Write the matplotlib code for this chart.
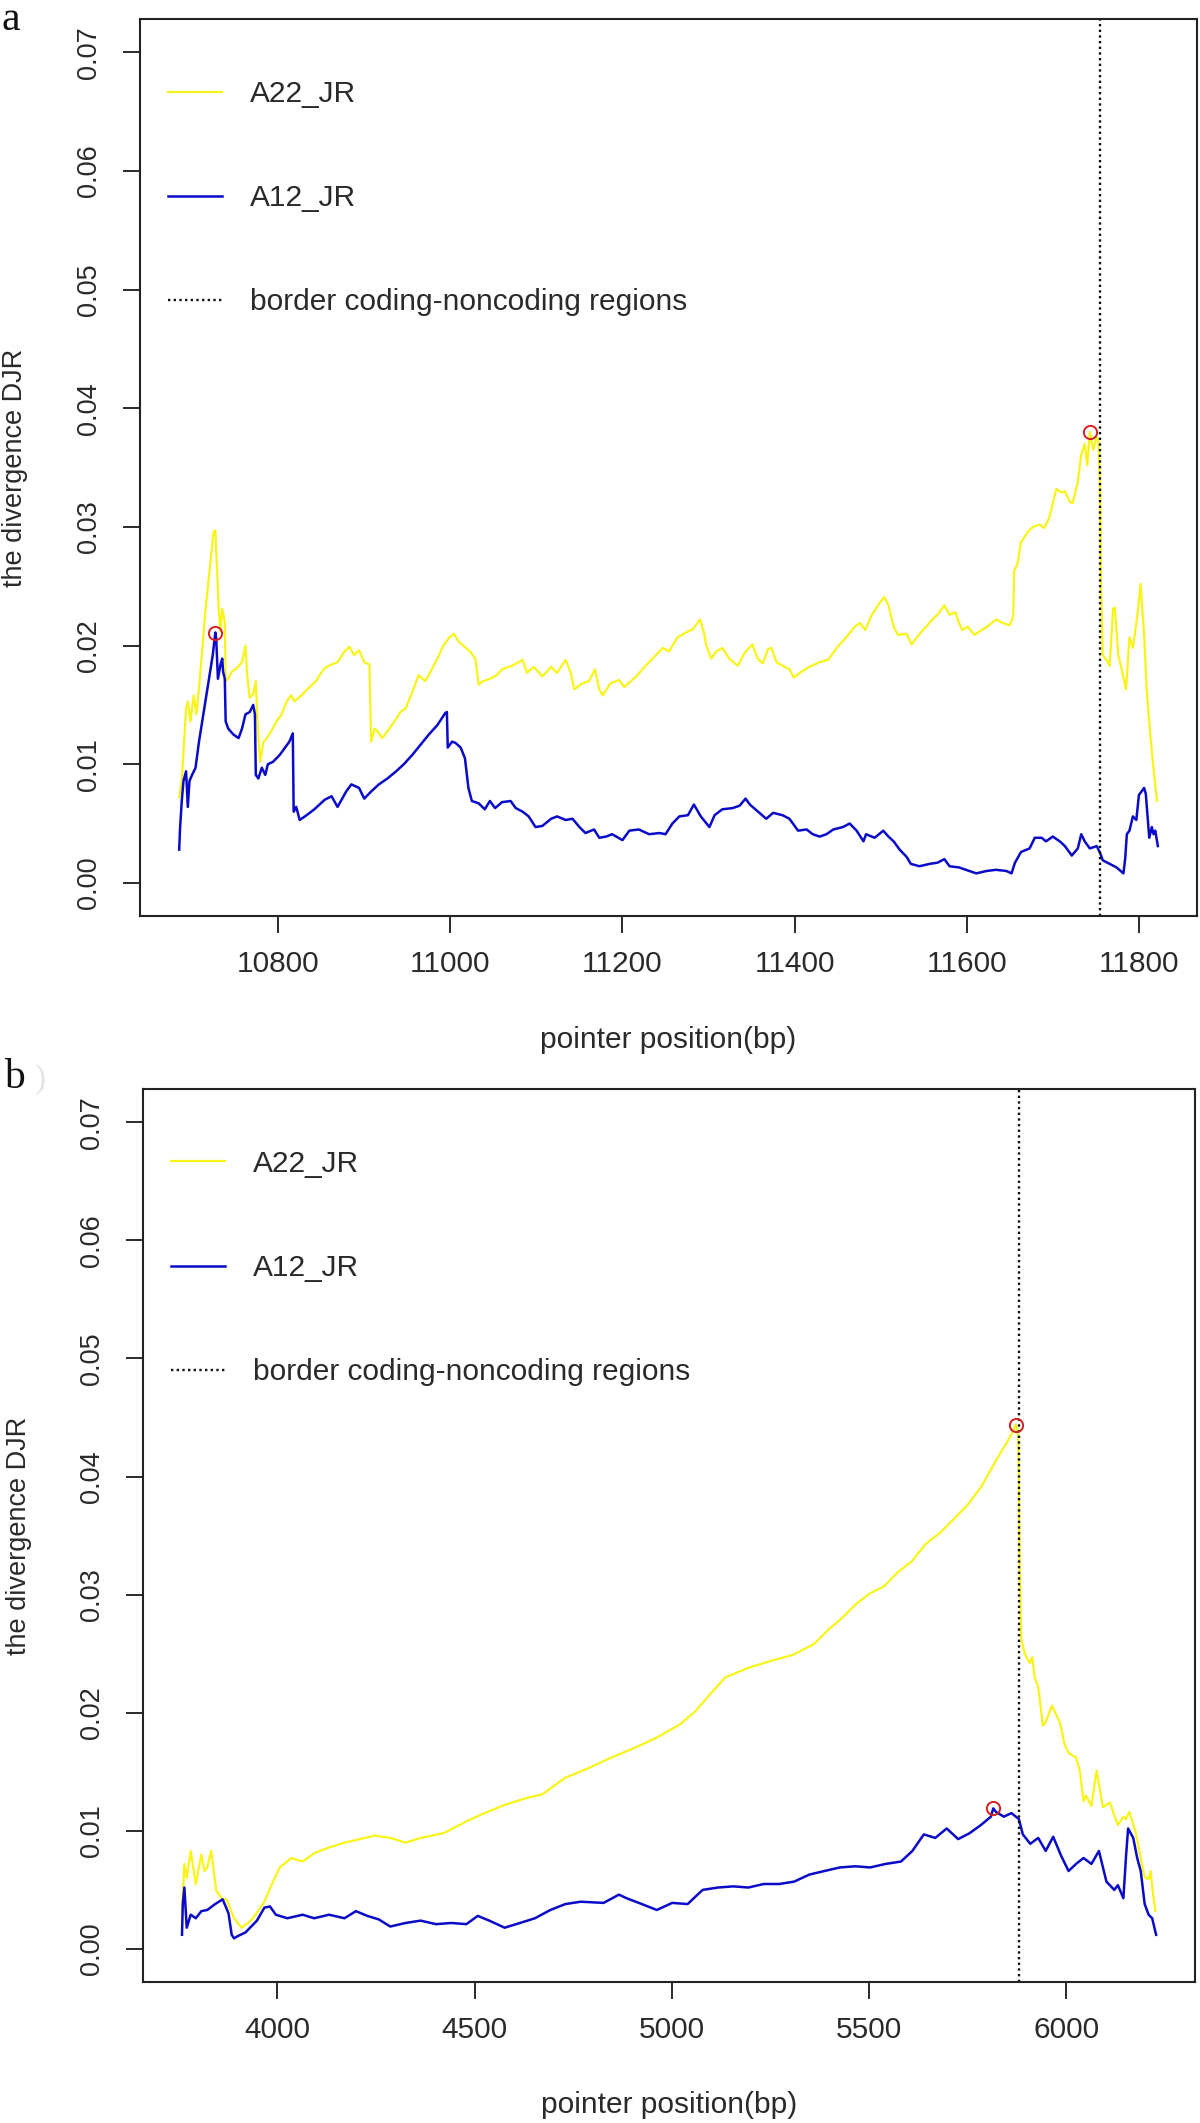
import matplotlib
matplotlib.use("Agg")
import matplotlib.pyplot as plt
import numpy as np

# ---- panel a : DJR along pointer position (bp) ----
a22_a_bp = [10685, 10688, 10693, 10695, 10698, 10702, 10705, 10708, 10712, 10715,
            10721, 10725, 10727, 10729, 10731, 10733, 10735, 10738, 10739, 10742,
            10746, 10752, 10758, 10762, 10764, 10767, 10771, 10774, 10776, 10779,
            10783, 10787, 10792, 10798, 10804, 10810, 10815, 10819, 10827, 10835,
            10844, 10848, 10854, 10862, 10869, 10877, 10883, 10888, 10894, 10900,
            10906, 10908, 10912, 10915, 10921, 10927, 10935, 10942, 10948, 10956,
            10963, 10971, 10977, 10985, 10992, 10998, 11004, 11010, 11015, 11023,
            11029, 11033, 11038, 11046, 11054, 11060, 11072, 11084, 11089, 11097,
            11107, 11117, 11124, 11134, 11140, 11144, 11153, 11161, 11168, 11173,
            11177, 11186, 11196, 11202, 11216, 11227, 11235, 11247, 11254, 11264,
            11274, 11282, 11290, 11295, 11297, 11303, 11309, 11316, 11324, 11334,
            11342, 11351, 11357, 11363, 11369, 11373, 11379, 11386, 11394, 11399,
            11406, 11417, 11429, 11439, 11449, 11460, 11470, 11476, 11482, 11489,
            11497, 11504, 11509, 11515, 11520, 11530, 11536, 11542, 11549, 11553,
            11560, 11566, 11574, 11580, 11587, 11591, 11595, 11601, 11609, 11617,
            11624, 11634, 11642, 11650, 11654, 11655, 11659, 11663, 11671, 11677,
            11685, 11690, 11696, 11700, 11704, 11710, 11714, 11720, 11723, 11729,
            11733, 11737, 11740, 11743, 11747, 11751, 11753, 11755, 11756, 11758,
            11764, 11766, 11770, 11772, 11776, 11780, 11785, 11789, 11793, 11797,
            11800, 11802, 11804, 11806, 11809, 11813, 11816, 11819, 11821]
a22_a_djr = [0.0072, 0.0086, 0.0147, 0.0153, 0.0136, 0.0158, 0.0142, 0.0164, 0.0198, 0.0226,
             0.0268, 0.0296, 0.0297, 0.0265, 0.0231, 0.0212, 0.0231, 0.0220, 0.0170, 0.0172,
             0.0178, 0.0181, 0.0186, 0.0200, 0.0175, 0.0156, 0.0159, 0.0170, 0.0136, 0.0102,
             0.0119, 0.0122, 0.0128, 0.0136, 0.0142, 0.0153, 0.0158, 0.0153, 0.0158, 0.0164,
             0.0170, 0.0175, 0.0181, 0.0184, 0.0186, 0.0195, 0.0199, 0.0192, 0.0196, 0.0186,
             0.0184, 0.0119, 0.0130, 0.0128, 0.0122, 0.0128, 0.0136, 0.0144, 0.0147, 0.0161,
             0.0175, 0.0170, 0.0178, 0.0189, 0.0200, 0.0206, 0.0210, 0.0203, 0.0200, 0.0195,
             0.0189, 0.0167, 0.0170, 0.0172, 0.0175, 0.0180, 0.0183, 0.0188, 0.0177, 0.0182,
             0.0174, 0.0182, 0.0177, 0.0188, 0.0177, 0.0163, 0.0168, 0.0170, 0.0180, 0.0163,
             0.0158, 0.0168, 0.0171, 0.0165, 0.0174, 0.0183, 0.0189, 0.0198, 0.0195, 0.0207,
             0.0211, 0.0214, 0.0222, 0.0210, 0.0201, 0.0189, 0.0195, 0.0198, 0.0189, 0.0183,
             0.0194, 0.0201, 0.0189, 0.0185, 0.0197, 0.0198, 0.0186, 0.0183, 0.0180, 0.0173,
             0.0177, 0.0182, 0.0186, 0.0188, 0.0198, 0.0207, 0.0216, 0.0219, 0.0213, 0.0225,
             0.0234, 0.0241, 0.0234, 0.0216, 0.0209, 0.0210, 0.0201, 0.0207, 0.0213, 0.0216,
             0.0222, 0.0226, 0.0234, 0.0226, 0.0228, 0.0219, 0.0213, 0.0216, 0.0209, 0.0213,
             0.0216, 0.0222, 0.0219, 0.0217, 0.0225, 0.0263, 0.0269, 0.0287, 0.0296, 0.0300,
             0.0302, 0.0299, 0.0308, 0.0320, 0.0332, 0.0329, 0.0330, 0.0321, 0.0320, 0.0338,
             0.0361, 0.0370, 0.0352, 0.0380, 0.0365, 0.0376, 0.0372, 0.0330, 0.0250, 0.0192,
             0.0186, 0.0183, 0.0231, 0.0232, 0.0192, 0.0180, 0.0163, 0.0207, 0.0198, 0.0219,
             0.0237, 0.0252, 0.0230, 0.0210, 0.0163, 0.0127, 0.0103, 0.0082, 0.0069]

a12_a_bp = [10685, 10686, 10688, 10690, 10693, 10695, 10697, 10700, 10704, 10708,
            10713, 10719, 10724, 10727, 10728, 10730, 10733, 10735, 10736, 10738,
            10739, 10742, 10748, 10754, 10758, 10762, 10767, 10771, 10773, 10774,
            10777, 10781, 10785, 10788, 10794, 10802, 10808, 10813, 10817, 10818,
            10821, 10825, 10833, 10842, 10854, 10862, 10869, 10879, 10885, 10894,
            10900, 10908, 10917, 10927, 10937, 10946, 10956, 10965, 10975, 10985,
            10994, 10996, 10997, 11002, 11006, 11012, 11017, 11021, 11025, 11033,
            11040, 11046, 11052, 11060, 11070, 11076, 11084, 11091, 11099, 11107,
            11117, 11124, 11134, 11142, 11150, 11157, 11167, 11173, 11181, 11188,
            11200, 11208, 11219, 11231, 11243, 11250, 11258, 11266, 11276, 11283,
            11291, 11301, 11307, 11316, 11328, 11336, 11343, 11348, 11359, 11367,
            11375, 11386, 11394, 11404, 11414, 11421, 11429, 11437, 11445, 11456,
            11464, 11472, 11480, 11483, 11493, 11503, 11509, 11515, 11522, 11530,
            11535, 11545, 11557, 11566, 11574, 11580, 11591, 11599, 11611, 11623,
            11634, 11646, 11652, 11656, 11663, 11673, 11679, 11687, 11692, 11700,
            11708, 11714, 11722, 11729, 11733, 11737, 11743, 11751, 11755, 11758,
            11766, 11774, 11782, 11784, 11786, 11789, 11793, 11797, 11800, 11803,
            11806, 11808, 11810, 11812, 11815, 11817, 11819, 11822]
a12_a_djr = [0.0028, 0.0046, 0.0069, 0.0086, 0.0094, 0.0064, 0.0086, 0.0091, 0.0097, 0.0119,
             0.0142, 0.0170, 0.0192, 0.0211, 0.0206, 0.0172, 0.0184, 0.0189, 0.0178, 0.0172,
             0.0136, 0.0130, 0.0125, 0.0122, 0.0130, 0.0142, 0.0144, 0.0150, 0.0142, 0.0091,
             0.0088, 0.0097, 0.0091, 0.0100, 0.0102, 0.0108, 0.0114, 0.0119, 0.0126, 0.0060,
             0.0064, 0.0053, 0.0057, 0.0062, 0.0070, 0.0073, 0.0064, 0.0077, 0.0083, 0.0080,
             0.0071, 0.0077, 0.0083, 0.0088, 0.0094, 0.0100, 0.0108, 0.0116, 0.0125, 0.0133,
             0.0143, 0.0144, 0.0114, 0.0119, 0.0118, 0.0114, 0.0105, 0.0080, 0.0069, 0.0067,
             0.0062, 0.0069, 0.0063, 0.0068, 0.0069, 0.0063, 0.0060, 0.0056, 0.0047, 0.0048,
             0.0054, 0.0056, 0.0053, 0.0054, 0.0047, 0.0042, 0.0045, 0.0038, 0.0039, 0.0041,
             0.0036, 0.0044, 0.0045, 0.0041, 0.0042, 0.0041, 0.0050, 0.0056, 0.0057, 0.0066,
             0.0056, 0.0047, 0.0057, 0.0062, 0.0063, 0.0065, 0.0071, 0.0066, 0.0059, 0.0054,
             0.0059, 0.0057, 0.0054, 0.0044, 0.0045, 0.0041, 0.0039, 0.0041, 0.0045, 0.0047,
             0.0050, 0.0044, 0.0035, 0.0041, 0.0038, 0.0044, 0.0039, 0.0035, 0.0028, 0.0022,
             0.0016, 0.0014, 0.0016, 0.0017, 0.0020, 0.0014, 0.0013, 0.0011, 0.0008, 0.0010,
             0.0011, 0.0010, 0.0008, 0.0017, 0.0026, 0.0029, 0.0038, 0.0038, 0.0035, 0.0039,
             0.0035, 0.0031, 0.0023, 0.0029, 0.0041, 0.0035, 0.0029, 0.0031, 0.0025, 0.0019,
             0.0016, 0.0013, 0.0008, 0.0020, 0.0041, 0.0044, 0.0056, 0.0053, 0.0074, 0.0077,
             0.0080, 0.0075, 0.0056, 0.0038, 0.0047, 0.0041, 0.0044, 0.0031]

# ---- panel b ----
a22_b_bp = [3758, 3764, 3770, 3780, 3793, 3807, 3815, 3822, 3832, 3845,
            3861, 3871, 3890, 3909, 3925, 3938, 3967, 3986, 4006, 4035,
            4064, 4093, 4131, 4170, 4209, 4247, 4286, 4325, 4363, 4421,
            4479, 4518, 4576, 4634, 4672, 4730, 4788, 4846, 4904, 4962,
            5020, 5059, 5098, 5136, 5194, 5252, 5307, 5360, 5396, 5431,
            5467, 5502, 5538, 5573, 5608, 5644, 5679, 5715, 5750, 5786,
            5821, 5848, 5865, 5872, 5878, 5880, 5882, 5886, 5895, 5901,
            5908, 5914, 5920, 5929, 5941, 5948, 5964, 5975, 5984, 5996,
            6006, 6025, 6035, 6044, 6050, 6064, 6077, 6083, 6093, 6111,
            6122, 6131, 6145, 6151, 6160, 6176, 6189, 6199, 6209, 6214,
            6220, 6226]
a22_b_djr = [0.0032, 0.0072, 0.0060, 0.0083, 0.0055, 0.0080, 0.0066, 0.0069, 0.0083, 0.0049,
             0.0042, 0.0042, 0.0026, 0.0018, 0.0022, 0.0026, 0.0040, 0.0055, 0.0069, 0.0077,
             0.0074, 0.0081, 0.0086, 0.0090, 0.0093, 0.0096, 0.0094, 0.0090, 0.0094, 0.0098,
             0.0108, 0.0114, 0.0122, 0.0128, 0.0131, 0.0145, 0.0153, 0.0162, 0.0170, 0.0179,
             0.0190, 0.0201, 0.0216, 0.0230, 0.0238, 0.0244, 0.0249, 0.0258, 0.0270, 0.0280,
             0.0292, 0.0301, 0.0307, 0.0319, 0.0328, 0.0343, 0.0352, 0.0364, 0.0376, 0.0392,
             0.0413, 0.0428, 0.0438, 0.0444, 0.0436, 0.0400, 0.0330, 0.0262, 0.0250, 0.0246,
             0.0242, 0.0247, 0.0230, 0.0222, 0.0189, 0.0192, 0.0206, 0.0198, 0.0192, 0.0173,
             0.0166, 0.0162, 0.0150, 0.0125, 0.0130, 0.0121, 0.0151, 0.0140, 0.0120, 0.0124,
             0.0113, 0.0105, 0.0112, 0.0110, 0.0116, 0.0099, 0.0077, 0.0061, 0.0059, 0.0066,
             0.0047, 0.0032]

a12_b_bp = [3758, 3760, 3764, 3770, 3780, 3793, 3807, 3822, 3842, 3861,
            3870, 3876, 3884, 3890, 3900, 3919, 3948, 3967, 3981, 3996,
            4025, 4064, 4093, 4131, 4170, 4199, 4228, 4257, 4286, 4325,
            4363, 4402, 4441, 4479, 4508, 4537, 4576, 4615, 4653, 4692,
            4730, 4769, 4827, 4866, 4885, 4924, 4962, 5001, 5040, 5078,
            5117, 5156, 5194, 5233, 5272, 5310, 5349, 5387, 5426, 5465,
            5503, 5542, 5581, 5610, 5639, 5668, 5697, 5726, 5755, 5784,
            5809, 5815, 5822, 5842, 5861, 5880, 5890, 5909, 5929, 5948,
            5967, 5987, 6006, 6025, 6044, 6064, 6083, 6102, 6122, 6131,
            6145, 6152, 6157, 6170, 6180, 6189, 6199, 6209, 6218, 6228]
a12_b_djr = [0.0012, 0.0038, 0.0052, 0.0018, 0.0029, 0.0026, 0.0032, 0.0033, 0.0038, 0.0042,
             0.0035, 0.0030, 0.0012, 0.0009, 0.0011, 0.0014, 0.0024, 0.0035, 0.0036, 0.0029,
             0.0026, 0.0029, 0.0026, 0.0029, 0.0026, 0.0032, 0.0028, 0.0025, 0.0019, 0.0022,
             0.0024, 0.0021, 0.0022, 0.0021, 0.0028, 0.0024, 0.0018, 0.0022, 0.0026, 0.0033,
             0.0038, 0.0040, 0.0039, 0.0046, 0.0043, 0.0038, 0.0033, 0.0039, 0.0038, 0.0050,
             0.0052, 0.0053, 0.0052, 0.0055, 0.0055, 0.0057, 0.0063, 0.0066, 0.0069, 0.0070,
             0.0069, 0.0072, 0.0074, 0.0083, 0.0097, 0.0094, 0.0102, 0.0093, 0.0098, 0.0105,
             0.0112, 0.0119, 0.0116, 0.0112, 0.0115, 0.0110, 0.0097, 0.0089, 0.0094, 0.0083,
             0.0095, 0.0079, 0.0066, 0.0072, 0.0077, 0.0072, 0.0083, 0.0057, 0.0050, 0.0054,
             0.0043, 0.0080, 0.0102, 0.0094, 0.0077, 0.0066, 0.0038, 0.0029, 0.0026, 0.0012]

border_a = 11755
border_b = 5880
xticks_a = [10800, 11000, 11200, 11400, 11600, 11800]
xticks_b = [4000, 4500, 5000, 5500, 6000]
yticks = [0.00, 0.01, 0.02, 0.03, 0.04, 0.05, 0.06, 0.07]

yellow = "#f8f418"
blue = "#0a0ac8"
ink = "#2a2a2a"

plt.rcParams["font.family"] = ["Liberation Sans", "DejaVu Sans"]

fig = plt.figure(figsize=(12, 21.23), dpi=100)
ax_a = fig.add_axes([0.1167, 0.5685, 0.8808, 0.4225])
ax_b = fig.add_axes([0.1192, 0.0664, 0.8767, 0.4206])


def draw_panel(ax, ybp, yval, bbp, bval, border, xticks):
    ax.plot(ybp, yval, color=yellow, lw=1.6, label="A22_JR")
    ax.plot(bbp, bval, color=blue, lw=1.8, label="A12_JR")
    ax.axvline(border, color="#111111", lw=1.7, ls=(0, (1, 1.4)),
               label="border coding-noncoding regions")
    # red open circle on the maximum of each curve
    for bp, val in ((ybp, yval), (bbp, bval)):
        i = int(np.argmax(val))
        ax.plot(bp[i], val[i], "o", mfc="none", mec="#d42020", ms=9.5, mew=1.4)

    lo = min(min(ybp), min(bbp))
    hi = max(max(ybp), max(bbp))
    pad = 0.04 * (hi - lo)
    ax.set_xlim(lo - pad, hi + pad)
    ax.set_ylim(-0.0028, 0.0728)

    ax.set_xticks(xticks)
    ax.set_yticks(yticks)
    ax.set_yticklabels([f"{v:.2f}" for v in yticks])
    ax.tick_params(direction="out", length=12.5, width=1.4, color=ink, labelcolor=ink)
    ax.tick_params(axis="x", labelsize=21.5, pad=12)
    ax.tick_params(axis="y", labelsize=19.5, pad=15, labelrotation=90)
    for lbl in ax.get_yticklabels():
        lbl.set_va("center")
    for sp in ax.spines.values():
        sp.set_linewidth(1.5)
        sp.set_color("#222222")

    ax.set_xlabel("pointer position(bp)", fontsize=21.5, color=ink)
    ax.xaxis.set_label_coords(0.5, -0.138)
    ax.xaxis.label.set_va("center")
    ax.set_ylabel("the divergence DJR", fontsize=19.5, color=ink)
    ax.yaxis.set_label_coords(-0.118, 0.5)
    ax.yaxis.label.set_va("center")

    leg = ax.legend(loc="upper left", bbox_to_anchor=(0.0265, 0.932), frameon=False,
                    fontsize=21.5, handlelength=1.8, handletextpad=0.95,
                    labelspacing=2.55, borderpad=0, borderaxespad=0)
    for t in leg.get_texts():
        t.set_color(ink)


draw_panel(ax_a, a22_a_bp, a22_a_djr, a12_a_bp, a12_a_djr, border_a, xticks_a)
draw_panel(ax_b, a22_b_bp, a22_b_djr, a12_b_bp, a12_b_djr, border_b, xticks_b)

fig.text(0.0015, 0.9998, "a", family="Liberation Serif", fontsize=30,
         va="top", ha="left", color="#111111")
fig.text(0.003, 1 - 1088 / 2123, "b", family="Liberation Serif", fontsize=30,
         va="baseline", ha="left", color="#111111")
fig.text(0.029, 1 - 1088 / 2123, ")", family="Liberation Serif", fontsize=24,
         va="baseline", ha="left", color="#e4e4e4")

fig.savefig("out.png", dpi=100, facecolor="white")
